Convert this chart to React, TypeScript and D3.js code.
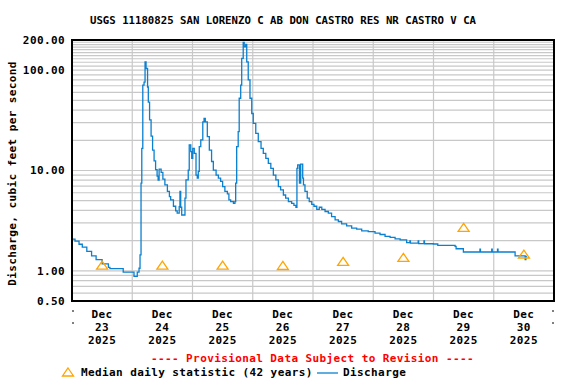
import React from "react";
import * as d3 from "d3";

const title = "USGS 11180825 SAN LORENZO C AB DON CASTRO RES NR CASTRO V CA";
const monthLabel = "Dec";
const yearLabel = "2025";
const dayLabels = ["23", "24", "25", "26", "27", "28", "29", "30"];
const yTickValues = [0.5, 1, 10, 100, 200];

// median daily statistic, one per day (noon)
const medianCfs = [1.14, 1.14, 1.14, 1.13, 1.24, 1.36, 2.71, 1.47];

// 15-min discharge: hours since Dec 23 00:00
const dischargeHours = [
  0, 1.2, 2.8, 4.1, 5.9, 7.8, 9.6, 12.0, 14.5, 15.1, 20.4, 24.7, 26.0, 26.7, 27.1, 27.5,
  27.8, 28.2, 28.7, 29.1, 29.5, 30.1, 30.4, 30.9, 31.5, 32.1, 32.7, 33.3, 33.9, 34.3, 34.7,
  35.5, 36.2, 37.0, 38.0, 38.8, 39.3, 40.4, 41.3, 41.9, 42.7, 43.0, 43.3, 43.7, 44.6, 45.0,
  45.4, 46.3, 46.7, 47.3, 47.7, 48.1, 48.7, 49.4, 49.9, 50.3, 50.7, 51.3, 52.1, 52.6, 53.1,
  53.9, 54.7, 55.6, 56.3, 57.4, 58.3, 59.2, 60.0, 60.9, 61.9, 62.5, 63.2, 64.3, 64.9, 65.2,
  65.6, 66.2, 66.6, 67.2, 67.6, 68.2, 68.6, 69.2, 69.6, 70.2, 70.9, 71.6, 72.2, 73.2, 74.2,
  75.3, 76.2, 77.2, 78.2, 79.2, 80.2, 81.2, 82.2, 83.1, 84.2, 85.1, 86.2, 87.5, 88.4, 89.2,
  89.6, 89.9, 90.6, 91.1, 91.9, 92.2, 92.8, 93.7, 94.5, 95.5, 96.4, 97.5, 98.5, 99.5, 100.8,
  102.1, 103.4, 104.8, 106.1, 107.4, 109.4, 111.4, 113.4, 115.4, 118.0, 120.7, 122.7, 124.7,
  126.7, 128.7, 130.7, 133.3, 134.6, 134.8, 137.3, 137.9, 138.1, 140.2, 140.4, 143.9, 145.7,
  152.6, 153.0, 155.9, 162.5, 162.7, 167.2, 167.4, 169.5, 169.7, 175.8, 176.5, 180.5, 180.8,
  181.2,
];
const dischargeCfs = [
  2.07, 1.98, 1.84, 1.72, 1.56, 1.41, 1.29, 1.17, 1.08, 1.05, 0.97, 0.88, 0.97, 1.06, 1.44, 7.5,
  16.6, 71, 76, 121, 104, 68, 48, 32, 22, 16, 12.5, 10.2, 8.8, 8.0, 10.3,
  9.6, 8.2, 7.2, 6.2, 5.5, 5.1, 4.4, 3.96, 3.76, 4.37, 6.2, 4.3, 3.6, 3.6, 5.3,
  8.05, 10.1, 18, 15.4, 13.2, 16.6, 14.8, 9.0, 8.4, 9.8, 17.3, 20.2, 30.6, 33, 30.6,
  21.8, 16, 12.3, 10.1, 9.0, 8.4, 7.8, 6.9, 6.2, 5.85, 5.1, 4.9, 4.7, 4.9, 7.5,
  17.3, 24.4, 52.5, 71, 131, 189, 171, 181, 121, 80, 52.5, 37, 29.5, 23.5, 19.4,
  16.6, 14.8, 13.2, 11.8, 10.5, 9.0, 8.05, 6.9, 6.4, 5.7, 5.3, 4.9, 4.7, 4.5, 4.3,
  10.5, 11.4, 7.5, 11.6, 8.4, 7.2, 6.2, 5.3, 4.9, 4.6, 4.4, 4.1, 4.3, 4.1, 3.9,
  3.76, 3.47, 3.22, 3.1, 2.94, 2.8, 2.66, 2.6, 2.5, 2.46, 2.37, 2.3, 2.2,
  2.15, 2.08, 2.03, 1.91, 1.99, 1.89, 1.89, 1.99, 1.87, 1.99, 1.86, 1.85, 1.79,
  1.75, 1.66, 1.54, 1.64, 1.54, 1.64, 1.54, 1.64, 1.54, 1.54, 1.41, 1.29, 1.39,
  1.39,
];

const W = 576;
const H = 384;
const left = 72;
const right = 554;
const top = 40;
const bottom = 301;

const font = "'DejaVu Sans Mono', monospace";
const gridColor = "#c8c8c8";
const lineColor = "#0a80d0";
const medianColor = "#ffa500";

function triangle(cx: number, cy: number) {
  return `M${cx},${cy - 4} L${cx + 5.5},${cy + 4} L${cx - 5.5},${cy + 4} Z`;
}

export default function App() {
  const x = d3.scaleLinear().domain([0, 192]).range([left, right]);
  const y = d3.scaleLog().domain([0.5, 200]).range([bottom, top]);

  // log grid: 1..9 per decade, finer (10s) between 100 and 200
  const hGrid: number[] = [];
  [0.1, 1, 10].forEach(d => {
    for (let k = 1; k < 10; k++) {
      const v = k * d;
      if (v > 0.5 && v < 200) hGrid.push(v);
    }
  });
  for (let v = 100; v < 200; v += 10) hGrid.push(v);

  const dayBounds = d3.range(1, dayLabels.length).map(d => d * 24);

  const data = dischargeHours.map((h, i) => [h, dischargeCfs[i]] as [number, number]);
  const line = d3
    .line<[number, number]>()
    .x(d => x(d[0]))
    .y(d => y(d[1]))
    .curve(d3.curveStepAfter);

  const fmt = d3.format(".2f");
  const textStyle = { fontFamily: font, fontWeight: 700 as const, fontSize: 11, letterSpacing: 0.4 };

  return (
    <svg width={W} height={H} style={{ position: "absolute", left: 0, top: 0, background: "#fff" }}>
      <text x={283} y={24} textAnchor="middle" style={{ ...textStyle, fontSize: 10.7, letterSpacing: 0 }}>
        {title}
      </text>

      {/* grid */}
      {hGrid.map(v => (
        <line key={"h" + v} x1={left} x2={right} y1={y(v)} y2={y(v)} stroke={gridColor} strokeWidth={1.2} />
      ))}
      {dayBounds.map(h => (
        <line key={"v" + h} x1={x(h)} x2={x(h)} y1={top} y2={bottom} stroke={gridColor} strokeWidth={1.2} />
      ))}

      {/* discharge */}
      <path d={line(data) || ""} fill="none" stroke={lineColor} strokeWidth={1.3} />

      {/* medians */}
      {medianCfs.map((v, i) => (
        <path key={"m" + i} d={triangle(x(i * 24 + 12), y(v))} fill="none" stroke={medianColor} strokeWidth={1.3} />
      ))}

      {/* frame */}
      <rect x={left} y={top} width={right - left} height={bottom - top} fill="none" stroke="#000" strokeWidth={2} />

      {/* y axis labels */}
      {yTickValues.map(v => (
        <text key={"yt" + v} x={65} y={y(v)} dy="0.35em" textAnchor="end" style={textStyle}>
          {fmt(v)}
        </text>
      ))}
      <text
        transform={`translate(16,${(top + bottom) / 2 + 3}) rotate(-90)`}
        textAnchor="middle"
        style={textStyle}
      >
        Discharge, cubic feet per second
      </text>

      {/* x axis labels */}
      {[311, 323].map(yy => (
        <g key={"tk" + yy}>
          <line x1={left} x2={left + 2} y1={yy} y2={yy} stroke="#000" strokeWidth={1} />
          <line x1={right - 2} x2={right} y1={yy} y2={yy} stroke="#000" strokeWidth={1} />
        </g>
      ))}
      {dayLabels.map((d, i) => {
        const cx = x(i * 24 + 12);
        return (
          <g key={"d" + d} style={textStyle}>
            <text x={cx} y={318} textAnchor="middle">{monthLabel}</text>
            <text x={cx} y={331} textAnchor="middle">{d}</text>
            <text x={cx} y={344} textAnchor="middle">{yearLabel}</text>
          </g>
        );
      })}

      <text x={312.5} y={362} textAnchor="middle" fill="#ff0000" style={textStyle}>
        ---- Provisional Data Subject to Revision ----
      </text>

      {/* legend */}
      <path d={triangle(68, 372)} fill="none" stroke={medianColor} strokeWidth={1.3} />
      <text x={81} y={376} style={textStyle}>Median daily statistic (42 years)</text>
      <line x1={317} x2={338} y1={373} y2={373} stroke={lineColor} strokeWidth={1.3} />
      <text x={343} y={376} style={textStyle}>Discharge</text>
    </svg>
  );
}
